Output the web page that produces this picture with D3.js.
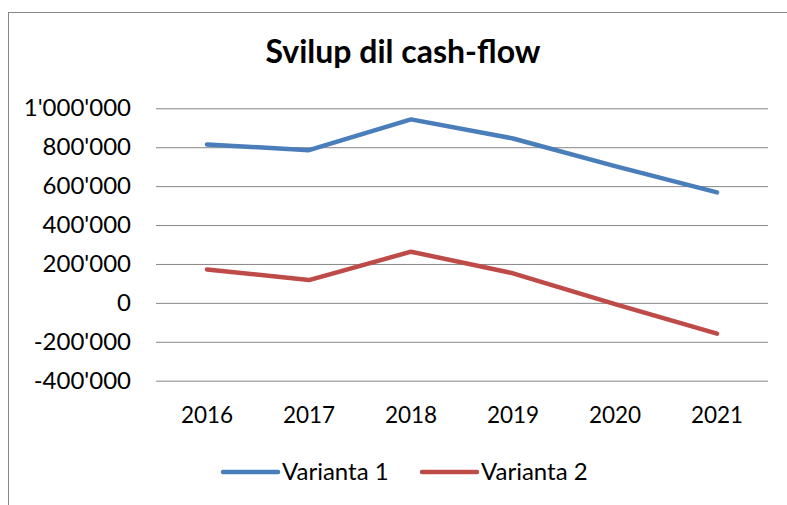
<!DOCTYPE html>
<html>
  <head>
    <meta charset="utf-8">
    <title></title>
  </head>
  <style>
  body{
      font-family: "Lato";
      background-color: #fff;
      margin:0;
      padding:0
  }
  .axis path { display: none }
  .grid path { display: none }
  .grid line { stroke: #878787; stroke-width: 1 }
  </style>
  <script src="https://d3js.org/d3.v7.min.js"></script>
  <body>
    <script>
    const years = ["2016", "2017", "2018", "2019", "2020", "2021"]
    const variant1 = [814000, 785000, 943000, 845000, 703000, 568000]
    const variant2 = [172000, 117000, 263000, 152000, -6000, -158000]
    const seriesNames = ["Varianta 1", "Varianta 2"]
    const yTicks = [-400000, -200000, 0, 200000, 400000, 600000, 800000, 1000000]
    const colors = ["#4a7ebb", "#be4b48"]

    const W = 787, H = 505
    const plot = { left: 156, right: 768, top: 108.3, bottom: 380.7 }

    const svg = d3.select("body").append("svg")
      .attr("width", W)
      .attr("height", H)

    // chart border
    svg.append("rect")
      .attr("x", 8.5).attr("y", 12.5)
      .attr("width", W).attr("height", H)
      .attr("fill", "none")
      .attr("stroke", "#878787")
      .attr("stroke-width", 1)

    svg.append("text")
      .attr("x", 403).attr("y", 63)
      .attr("text-anchor", "middle")
      .attr("font-size", "32px")
      .attr("font-weight", "bold")
      .text("Svilup dil cash-flow")

    const xScale = d3.scaleBand().domain(years).range([plot.left, plot.right])
    const yScale = d3.scaleLinear().domain([-400000, 1000000]).range([plot.bottom, plot.top])

    const fmt = d3.formatLocale({ decimal: ".", thousands: "'", grouping: [3], currency: ["", ""], minus: "-" }).format(",")

    // gridlines
    svg.append("g")
      .attr("class", "grid")
      .attr("transform", "translate(" + plot.left + ",0)")
      .call(d3.axisLeft(yScale).tickValues(yTicks).tickSize(-(plot.right - plot.left)).tickFormat(""))

    // y axis labels
    const yAxis = svg.append("g")
      .attr("class", "axis")
      .attr("transform", "translate(" + plot.left + ",0)")
      .call(d3.axisLeft(yScale).tickValues(yTicks).tickSize(0).tickPadding(25).tickFormat(fmt))
    yAxis.selectAll("text").attr("font-size", "24px").attr("font-family", "Lato").attr("fill", "#000")

    // x axis labels
    const xAxis = svg.append("g")
      .attr("class", "axis")
      .attr("transform", "translate(0," + plot.bottom + ")")
      .call(d3.axisBottom(xScale).tickSize(0).tickPadding(0))
    xAxis.selectAll("text")
      .attr("font-size", "22.5px").attr("font-family", "Lato").attr("fill", "#000")
      .attr("dy", null).attr("y", 42)

    const data = [variant1, variant2]
    const line = d3.line()
      .x(function(d, i){ return xScale(years[i]) + xScale.bandwidth() / 2 })
      .y(function(d){ return yScale(d) })

    svg.append("g").selectAll("path")
      .data(data)
      .enter()
      .append("path")
      .attr("d", function(d){ return line(d) })
      .attr("fill", "none")
      .attr("stroke-width", 4.5)
      .attr("stroke-linecap", "round")
      .attr("stroke-linejoin", "round")
      .attr("stroke", function(d, i){ return colors[i] })

    // legend
    const legendX = [223, 422]
    const legend = svg.append("g").selectAll("g")
      .data(seriesNames)
      .enter()
      .append("g")
      .attr("transform", function(d, i){ return "translate(" + legendX[i] + ",472)" })
    legend.append("line")
      .attr("x1", 0).attr("x2", 55)
      .attr("stroke-width", 4.5)
      .attr("stroke-linecap", "round")
      .attr("stroke", function(d, i){ return colors[i] })
    legend.append("text")
      .attr("x", 59).attr("y", 8)
      .attr("font-size", "24px")
      .text(function(d){ return d })
    </script>
  </body>
</html>
